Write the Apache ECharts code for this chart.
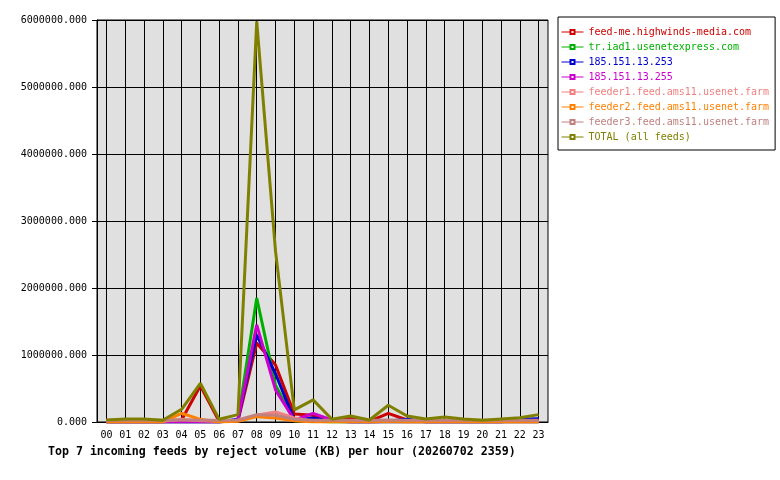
<!DOCTYPE html>
<html>
<head>
<meta charset="utf-8">
<script src="https://cdn.jsdelivr.net/npm/echarts@6/dist/echarts.min.js"></script>
<style>
  html, body { margin: 0; padding: 0; background: #fff; }
  #main { width: 780px; height: 480px; }
</style>
</head>
<body>
<div id="main"></div>
<script type="text/javascript">
    // hours of the day
    var hours = ['00', '01', '02', '03', '04', '05', '06', '07', '08', '09', '10', '11',
        '12', '13', '14', '15', '16', '17', '18', '19', '20', '21', '22', '23'];

    // reject volume per feed (KB)
    var feedMe = [5000, 5000, 5000, 5000, 30000, 540000, 10000, 15000, 1180000, 850000, 120000, 100000,
        20000, 60000, 10000, 130000, 30000, 10000, 20000, 10000, 10000, 15000, 20000, 30000];
    var trIad1 = [0, 0, 0, 0, 0, 0, 0, 30000, 1850000, 550000, 20000, 10000,
        0, 0, 0, 0, 0, 0, 0, 0, 0, 0, 0, 0];
    var ip253 = [0, 0, 0, 0, 0, 0, 0, 40000, 1300000, 720000, 30000, 60000,
        10000, 0, 0, 10000, 40000, 0, 0, 0, 0, 0, 40000, 50000];
    var ip255 = [0, 0, 0, 0, 0, 0, 0, 30000, 1450000, 480000, 30000, 130000,
        30000, 0, 0, 0, 0, 0, 0, 0, 0, 0, 0, 0];
    var feeder1 = [10000, 10000, 10000, 10000, 40000, 20000, 10000, 20000, 100000, 150000, 60000, 10000,
        10000, 10000, 10000, 10000, 10000, 10000, 10000, 10000, 10000, 10000, 10000, 10000];
    var feeder2 = [0, 0, 0, 0, 130000, 40000, 0, 10000, 80000, 60000, 20000, 0,
        0, 0, 0, 10000, 0, 0, 0, 0, 0, 0, 0, 0];
    var feeder3 = [25000, 25000, 25000, 25000, 30000, 25000, 25000, 30000, 110000, 100000, 40000, 25000,
        25000, 25000, 25000, 30000, 25000, 25000, 25000, 25000, 25000, 25000, 25000, 25000];
    var total = [30000, 45000, 45000, 25000, 190000, 578000, 40000, 110000, 5980000, 2550000, 180000, 330000,
        40000, 90000, 30000, 250000, 90000, 45000, 75000, 45000, 25000, 45000, 65000, 110000];

    var feeds = [
        { name: 'feed-me.highwinds-media.com', color: '#cc0000', data: feedMe },
        { name: 'tr.iad1.usenetexpress.com', color: '#00b000', data: trIad1 },
        { name: '185.151.13.253', color: '#0000cc', data: ip253 },
        { name: '185.151.13.255', color: '#cc00cc', data: ip255 },
        { name: 'feeder1.feed.ams11.usenet.farm', color: '#f08080', data: feeder1 },
        { name: 'feeder2.feed.ams11.usenet.farm', color: '#ff8000', data: feeder2 },
        { name: 'feeder3.feed.ams11.usenet.farm', color: '#c08080', data: feeder3 },
        { name: 'TOTAL (all feeds)', color: '#808000', data: total }
    ];

    var mono = '"DejaVu Sans Mono", monospace';
    var myChart = echarts.init(document.getElementById('main'));

    var option = {
        backgroundColor: '#ffffff',
        animation: false,
        title: {
            text: 'Top 7 incoming feeds by reject volume (KB) per hour (20260702 2359)',
            left: 48,
            top: 446,
            padding: 0,
            textStyle: { fontFamily: mono, fontSize: 11.6, fontWeight: 'bold', color: '#000' }
        },
        legend: {
            orient: 'vertical',
            left: 558,
            top: 17,
            padding: [10, 6, 8, 3],
            itemGap: 5,
            itemWidth: 22,
            itemHeight: 5,
            backgroundColor: '#ffffff',
            borderColor: '#000',
            borderWidth: 1,
            borderRadius: 0,
            lineStyle: { width: 1 },
            itemStyle: { borderWidth: 1 },
            textStyle: { fontFamily: mono, fontSize: 10 },
            data: feeds.map(function (f) {
                return { name: f.name, textStyle: { color: f.color } };
            })
        },
        grid: {
            left: 97,
            top: 20,
            right: 232,
            bottom: 58,
            show: true,
            backgroundColor: '#e0e0e0',
            borderColor: '#000',
            borderWidth: 1
        },
        xAxis: {
            type: 'category',
            data: hours,
            boundaryGap: true,
            axisLine: { lineStyle: { color: '#000', width: 1 } },
            axisTick: { alignWithLabel: true, length: 4, lineStyle: { color: '#000' } },
            axisLabel: { fontFamily: mono, fontSize: 10, color: '#000', margin: 8, interval: 0 },
            splitLine: { show: true, alignWithLabel: true, lineStyle: { color: '#000', width: 1 } }
        },
        yAxis: {
            type: 'value',
            min: 0,
            max: 6000000,
            interval: 1000000,
            axisLine: { show: true, lineStyle: { color: '#000', width: 1 } },
            axisTick: { show: true, length: 5, lineStyle: { color: '#000' } },
            axisLabel: {
                fontFamily: mono, fontSize: 10, color: '#000', margin: 10,
                formatter: function (v) { return v.toFixed(3); }
            },
            splitLine: { show: true, lineStyle: { color: '#000', width: 1 } }
        },
        series: feeds.map(function (f) {
            return {
                name: f.name,
                type: 'line',
                data: f.data,
                symbol: 'emptyRect',
                symbolSize: 4,
                showSymbol: false,
                color: f.color,
                lineStyle: { width: 3, color: f.color },
                emphasis: { disabled: true }
            };
        })
    };
    myChart.setOption(option);
</script>
</body>
</html>
